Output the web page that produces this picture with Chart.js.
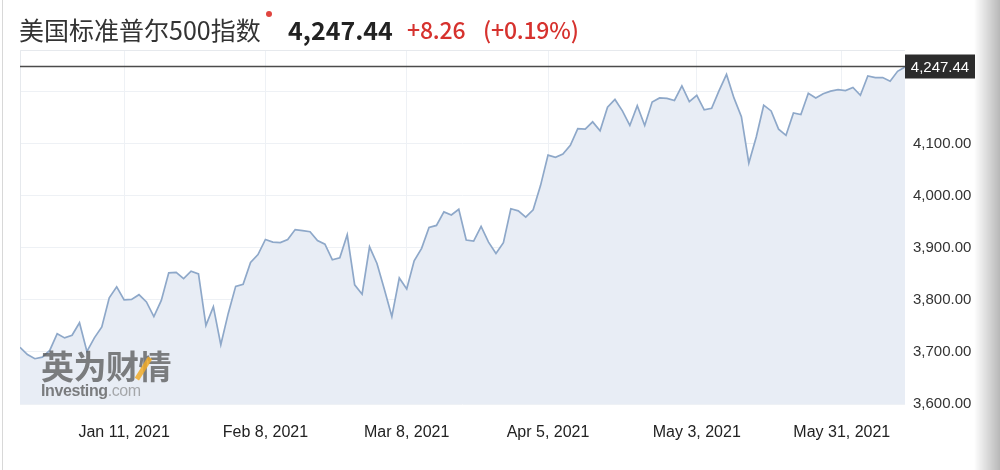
<!DOCTYPE html>
<html>
<head>
<meta charset="utf-8">
<script src="https://cdn.jsdelivr.net/npm/chart.js@4"></script>
<style>
  html, body { margin: 0; padding: 0; background: #fff; }
  #wrap { position: relative; width: 1000px; height: 470px; overflow: hidden; }
  #chart { position: absolute; left: 0; top: 0; }
  .edge { position: absolute; left: 2px; top: 0; width: 1px; height: 470px; background: #d8d8d8; }
  .shade { position: absolute; right: 0; top: 0; width: 26px; height: 470px;
           background: linear-gradient(to right, rgba(0,0,0,0), rgba(0,0,0,0.28)); }
  .hd { position: absolute; top: 15px; line-height: 28px; font-family: "Noto Sans CJK SC", "Noto Sans", sans-serif;
        white-space: nowrap; }
  .name { left: 19px; font-size: 25px; color: #333; }
  .price { left: 288px; font-size: 25px; font-weight: bold; color: #222; }
  .red { font-size: 23px; font-weight: 500; color: #d6322e; letter-spacing: -0.2px; }
  .dot { position: absolute; left: 266px; top: 11px; width: 6px; height: 6px; border-radius: 50%; background: #e0453f; }
  #wm { position: absolute; left: 41px; top: 347px; pointer-events: none; }
  #wm .cn { font-family: "Noto Sans CJK SC", sans-serif; font-weight: bold; font-size: 33px; line-height: 36px;
            color: rgba(85,85,85,0.75); letter-spacing: -0.5px; }
  #wm .en { font-family: "Liberation Sans", Arial, sans-serif; font-weight: bold; font-size: 16px; line-height: 17px;
            color: rgba(85,85,85,0.75); margin-top: -1px; letter-spacing: -0.4px; }
  #wm .en span { font-weight: normal; color: rgba(120,120,120,0.6); }
  #wm .acc { position: absolute; left: 100px; top: 9px; width: 5px; height: 25px; background: rgba(240,170,40,0.85);
             transform: rotate(32deg); }
</style>
</head>
<body>
<div id="wrap">
  <canvas id="chart" width="1000" height="470"></canvas>
  <div class="edge"></div>
  <div class="hd name">美国标准普尔500指数</div>
  <div class="dot"></div>
  <div class="hd price">4,247.44</div>
  <div class="hd red" style="left:407px">+8.26</div>
  <div class="hd red" style="left:483px">(+0.19%)</div>
  <div id="wm">
    <div class="cn">英为财情</div>
    <div class="en">Investing<span>.com</span></div>
    <div class="acc"></div>
  </div>
  <div class="shade"></div>
</div>
<script>
// trading days shown on the chart
const dates = [
  '2020-12-18','2020-12-21','2020-12-22','2020-12-23','2020-12-24','2020-12-28','2020-12-29','2020-12-30','2020-12-31',
  '2021-01-04','2021-01-05','2021-01-06','2021-01-07','2021-01-08','2021-01-11','2021-01-12','2021-01-13','2021-01-14',
  '2021-01-15','2021-01-19','2021-01-20','2021-01-21','2021-01-22','2021-01-25','2021-01-26','2021-01-27','2021-01-28',
  '2021-01-29','2021-02-01','2021-02-02','2021-02-03','2021-02-04','2021-02-05','2021-02-08','2021-02-09','2021-02-10',
  '2021-02-11','2021-02-12','2021-02-16','2021-02-17','2021-02-18','2021-02-19','2021-02-22','2021-02-23','2021-02-24',
  '2021-02-25','2021-02-26','2021-03-01','2021-03-02','2021-03-03','2021-03-04','2021-03-05','2021-03-08','2021-03-09',
  '2021-03-10','2021-03-11','2021-03-12','2021-03-15','2021-03-16','2021-03-17','2021-03-18','2021-03-19','2021-03-22',
  '2021-03-23','2021-03-24','2021-03-25','2021-03-26','2021-03-29','2021-03-30','2021-03-31','2021-04-01','2021-04-05',
  '2021-04-06','2021-04-07','2021-04-08','2021-04-09','2021-04-12','2021-04-13','2021-04-14','2021-04-15','2021-04-16',
  '2021-04-19','2021-04-20','2021-04-21','2021-04-22','2021-04-23','2021-04-26','2021-04-27','2021-04-28','2021-04-29',
  '2021-04-30','2021-05-03','2021-05-04','2021-05-05','2021-05-06','2021-05-07','2021-05-10','2021-05-11','2021-05-12',
  '2021-05-13','2021-05-14','2021-05-17','2021-05-18','2021-05-19','2021-05-20','2021-05-21','2021-05-24','2021-05-25',
  '2021-05-26','2021-05-27','2021-05-28','2021-06-01','2021-06-02','2021-06-03','2021-06-04','2021-06-07','2021-06-08',
  '2021-06-09','2021-06-10','2021-06-11'
];

// closing values
const closes = [
  3709, 3695, 3687, 3690, 3703, 3735, 3727, 3732, 3756,
  3701, 3727, 3748, 3804, 3825, 3800, 3801, 3810, 3796,
  3768, 3799, 3852, 3853, 3841, 3855, 3850, 3751, 3787,
  3714, 3774, 3826, 3830, 3872, 3887, 3916, 3911, 3910,
  3916, 3935, 3933, 3931, 3914, 3907, 3877, 3881, 3925,
  3829, 3811, 3902, 3870, 3820, 3768, 3842, 3821, 3875,
  3899, 3939, 3943, 3969, 3963, 3974, 3915, 3913, 3941,
  3911, 3889, 3910, 3975, 3971, 3959, 3973, 4020, 4078,
  4074, 4080, 4097, 4129, 4128, 4142, 4125, 4170, 4185,
  4163, 4135, 4173, 4135, 4180, 4188, 4187, 4183, 4211,
  4181, 4193, 4165, 4168, 4202, 4233, 4188, 4152, 4063,
  4113, 4174, 4163, 4128, 4116, 4159, 4156, 4197, 4188,
  4196, 4201, 4204, 4202, 4208, 4193, 4230, 4227, 4227,
  4220, 4239, 4247.44
];

const tickDates = ['2021-01-11', '2021-02-08', '2021-03-08', '2021-04-05', '2021-05-03', '2021-05-31'];
const tickLabels = ['Jan 11, 2021', 'Feb 8, 2021', 'Mar 8, 2021', 'Apr 5, 2021', 'May 3, 2021', 'May 31, 2021'];

// a tick date that is not a trading day sits halfway between its neighbours
const tickPos = tickDates.map(d => {
  const i = dates.findIndex(x => x >= d);
  return dates[i] === d ? i : i - 0.5;
});

const last = closes[closes.length - 1];
const fmt = v => v.toLocaleString('en-US', { minimumFractionDigits: 2, maximumFractionDigits: 2 });

const frame = {
  id: 'frame',
  beforeDatasetsDraw(chart) {
    const { ctx, chartArea: a } = chart;
    ctx.save();
    ctx.strokeStyle = '#e6e9ed';
    ctx.lineWidth = 1;
    ctx.beginPath();
    ctx.moveTo(a.left + 0.5, a.bottom);
    ctx.lineTo(a.left + 0.5, a.top + 0.5);
    ctx.lineTo(a.right, a.top + 0.5);
    ctx.stroke();
    ctx.restore();
  },
  afterDatasetsDraw(chart) {
    const { ctx, chartArea: a, scales: { y } } = chart;
    const py = Math.round(y.getPixelForValue(last)) - 0.5;
    ctx.save();
    ctx.strokeStyle = '#4b4b4b';
    ctx.lineWidth = 1.5;
    ctx.beginPath();
    ctx.moveTo(a.left, py);
    ctx.lineTo(a.right, py);
    ctx.stroke();
    ctx.fillStyle = '#2c2c2c';
    ctx.fillRect(a.right, py - 12, 70, 24);
    ctx.fillStyle = '#fff';
    ctx.font = '15px "Liberation Sans", Arial, sans-serif';
    ctx.textAlign = 'center';
    ctx.textBaseline = 'middle';
    ctx.fillText(fmt(last), a.right + 35, py + 1);
    ctx.restore();
  }
};

const ctx = document.getElementById('chart').getContext('2d');
const chart = new Chart(ctx, {
  type: 'line',
  data: {
    datasets: [{
      data: closes.map((v, i) => ({ x: i, y: v })),
      borderColor: '#8ea8c9',
      backgroundColor: '#e8edf5',
      borderWidth: 1.7,
      fill: 'start',
      pointRadius: 0,
      tension: 0
    }]
  },
  options: {
    responsive: false,
    animation: false,
    layout: { padding: { left: 20, top: 50, right: 0, bottom: 0 } },
    plugins: { legend: { display: false }, tooltip: { enabled: false } },
    scales: {
      x: {
        type: 'linear',
        min: 0,
        max: closes.length - 1,
        afterBuildTicks: s => { s.ticks = tickPos.map(v => ({ value: v })); },
        afterFit: s => { s.height = 66; },
        ticks: {
          callback: (v, i) => tickLabels[i],
          autoSkip: false,
          maxRotation: 0,
          padding: 19,
          color: '#222',
          font: { family: '"Liberation Sans", Arial, sans-serif', size: 16 }
        },
        grid: { color: '#eef1f5', drawTicks: false },
        border: { display: false }
      },
      y: {
        position: 'right',
        min: 3600,
        max: 4280,
        afterFit: s => { s.width = 95; },
        ticks: {
          stepSize: 100,
          padding: 8,
          color: '#333',
          font: { family: '"Liberation Sans", Arial, sans-serif', size: 15 },
          // the label under the last-price tag is left out
          callback: v => Math.abs(v - last) < 60 ? '' : fmt(v)
        },
        grid: { color: '#eef1f5', drawTicks: false },
        border: { display: false }
      }
    }
  },
  plugins: [frame]
});
</script>
</body>
</html>
